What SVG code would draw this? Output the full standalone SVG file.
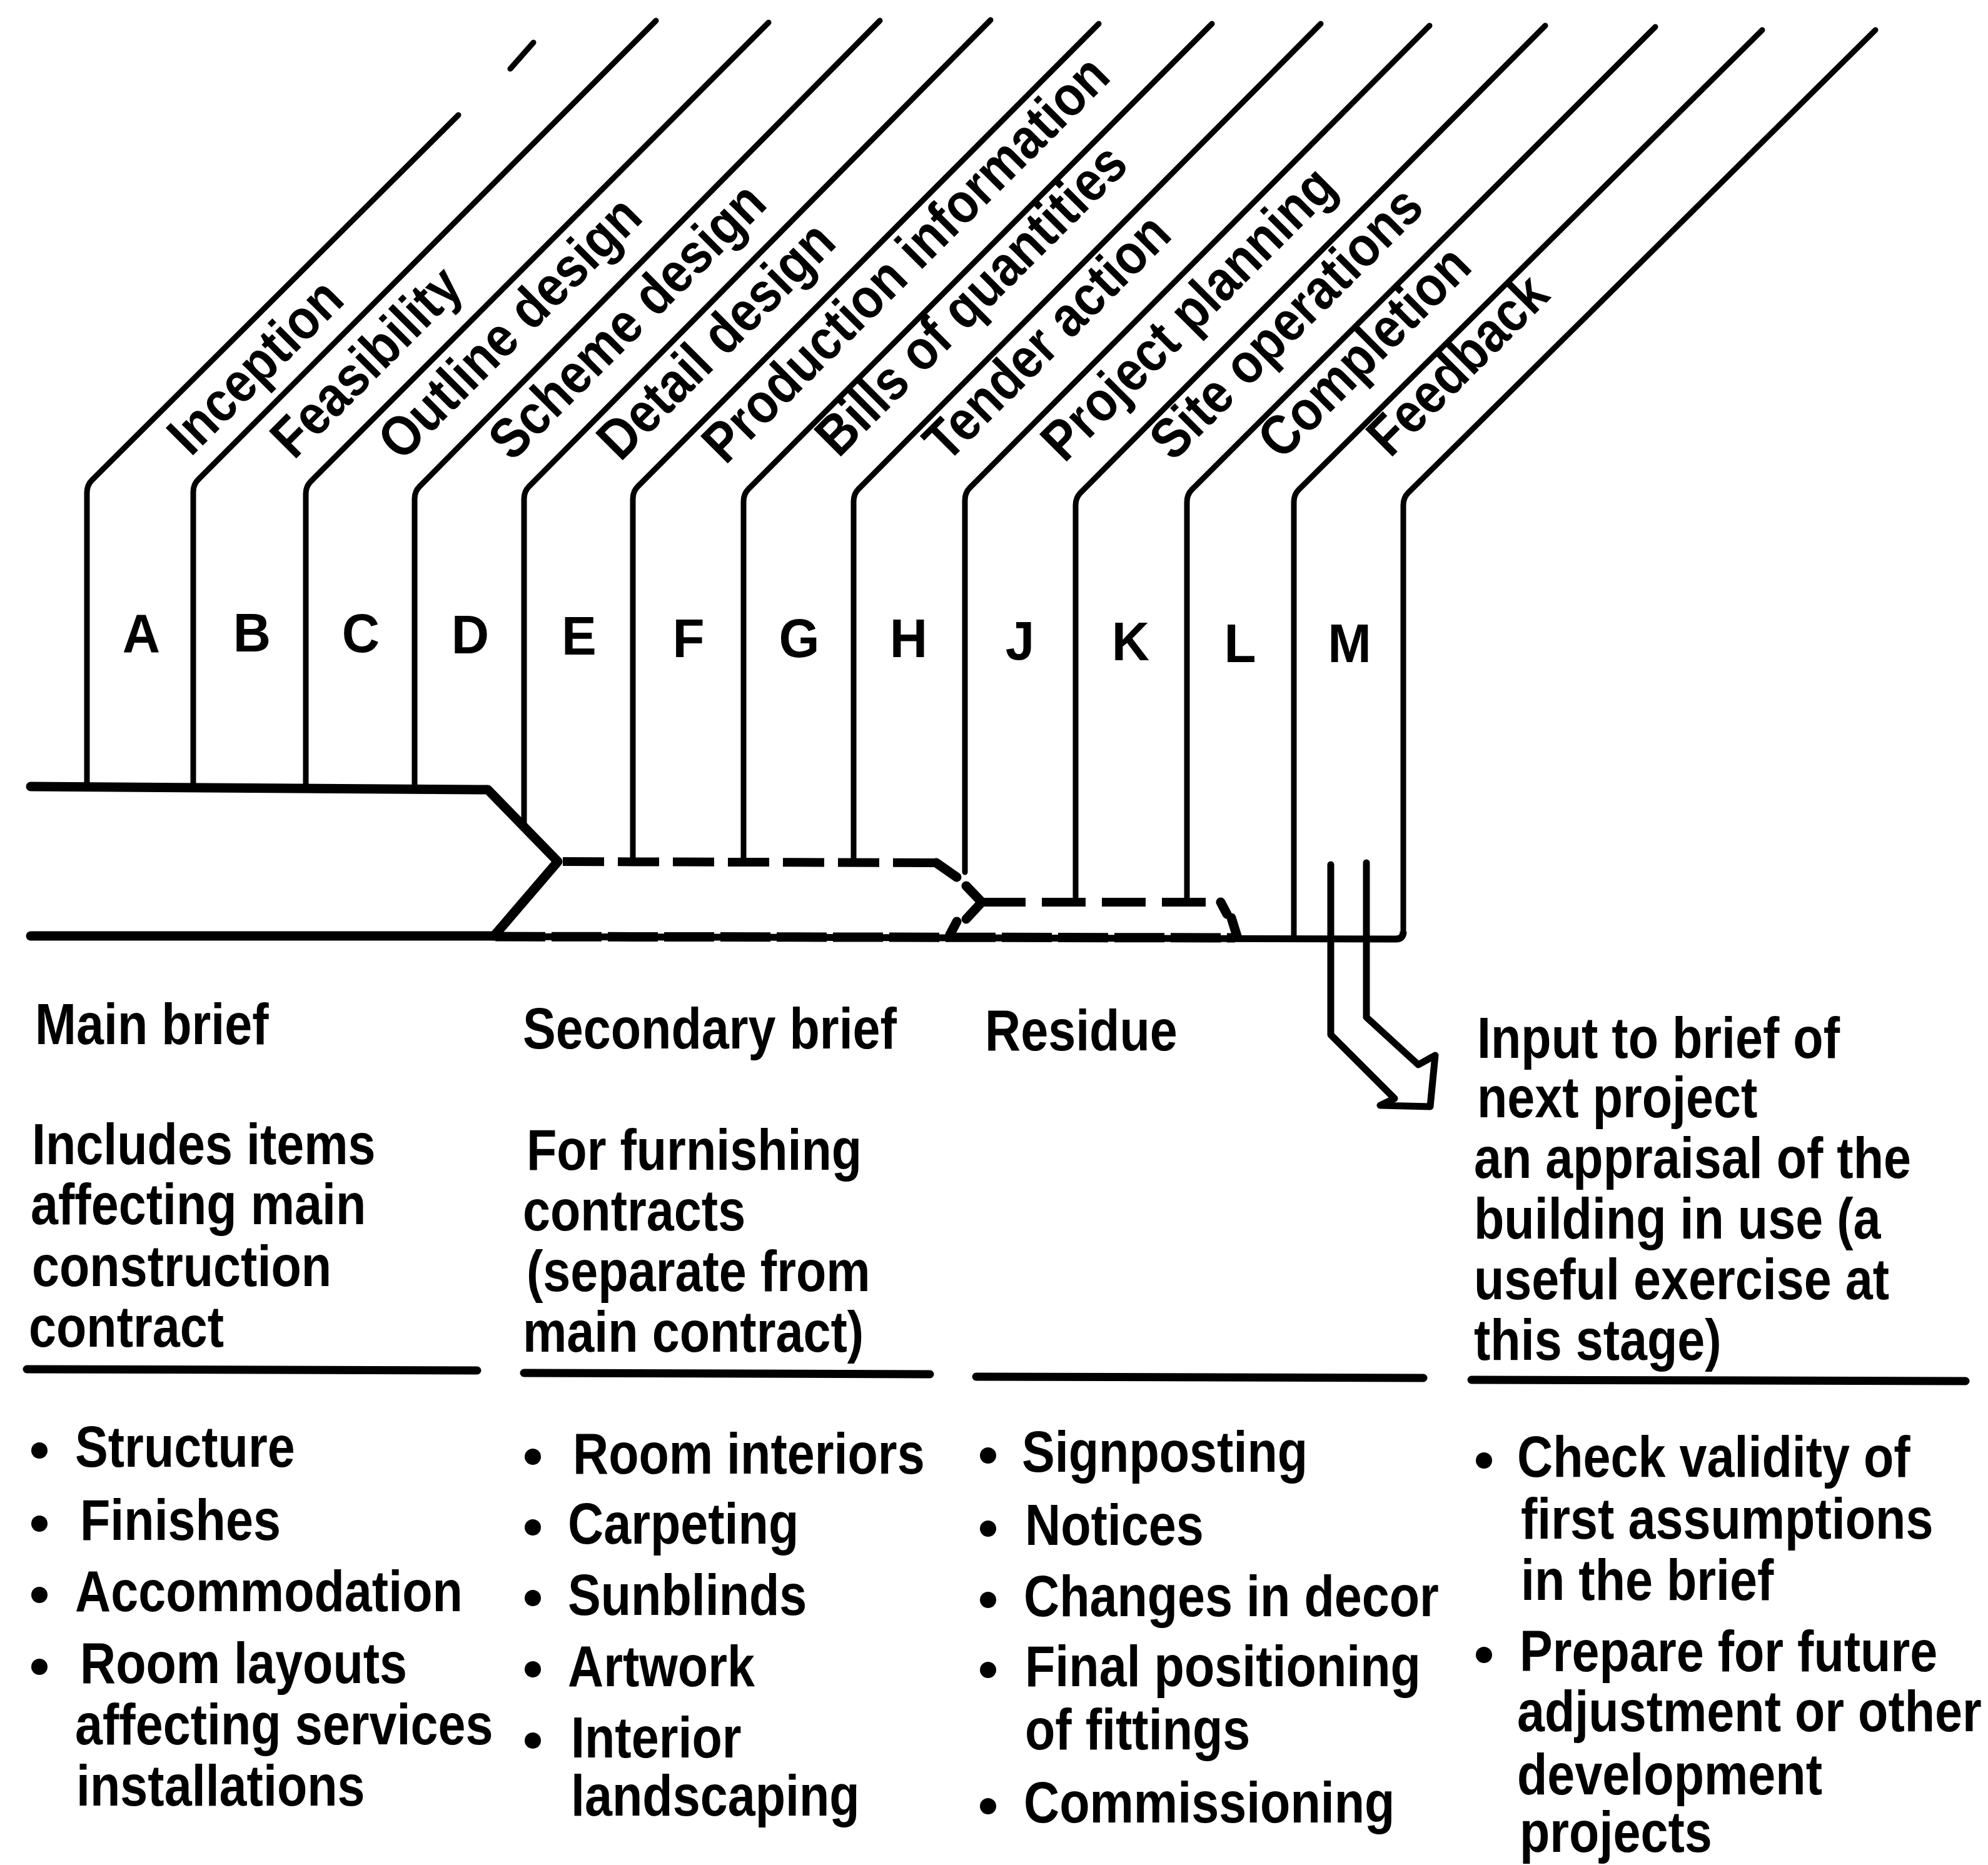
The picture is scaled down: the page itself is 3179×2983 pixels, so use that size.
<svg xmlns="http://www.w3.org/2000/svg" width="3179" height="2983" viewBox="0 0 3179 2983">
<style>
.ln{fill:none;stroke:#000;stroke-width:9;stroke-linecap:round;stroke-linejoin:round}
.thick{fill:none;stroke:#000;stroke-width:15;stroke-linecap:round;stroke-linejoin:round}
.dash{fill:none;stroke:#000;stroke-width:14;stroke-dasharray:66 22}
.dash2{fill:none;stroke:#000;stroke-width:14;stroke-dasharray:70 26}
.dash3{fill:none;stroke:#000;stroke-width:15;stroke-dasharray:80 10}
.thin{fill:none;stroke:#000;stroke-width:11}
.rule{fill:none;stroke:#000;stroke-width:13;stroke-linecap:round}
.arrow{fill:none;stroke:#000;stroke-width:11;stroke-linejoin:round;stroke-linecap:round}
text{font-family:"Liberation Sans",Arial,sans-serif;font-weight:bold;fill:#000}
.t{font-size:92px}
.lab{font-size:90px}
.let{font-size:88px;text-anchor:middle}
.bul{fill:#000}
</style>
<rect width="3179" height="2983" fill="#fff"/>

<g id="connectors">
  <!-- main brief band -->
  <path class="thick" d="M49,1258 L780,1263 L892,1378 L790,1497"/>
  <path class="thick" d="M49,1497 L790,1497"/>
  <path class="thin" d="M790,1498 L2232,1502 Q2244,1502 2244,1490"/>
  <path class="dash3" d="M792,1498 L1975,1500"/>
  <!-- secondary brief dashed -->
  <path class="dash" d="M900,1378 L1497,1380"/>
  <path class="thick" d="M1497,1380 L1530,1403"/>
  <path class="thick" d="M1519,1495 L1530,1474"/>
  <!-- residue -->
  <path class="thick" d="M1545,1417 L1570,1443 L1545,1470"/>
  <path class="dash2" d="M1570,1443 L1952,1443"/>
  <path class="thick" d="M1952,1443 L1962,1462"/>
  <path class="thick" d="M1978,1497 L1969,1468"/>
  <!-- stray fragment at top -->
  <path class="ln" d="M816,110 L853,68"/>
  <!-- output arrow -->
  <path class="arrow" d="M2128,1383 L2128,1655 L2230,1757 L2207,1768 L2287,1770 L2295,1688 L2268,1703 L2185,1627 L2185,1380"/>
</g>

<g id="stage-A">
  <path class="ln" d="M139,1258 V788 Q139,776 147,768 L733,184"/>
  <text class="let" transform="matrix(0.95 0 0 1 226 1043)">A</text>
  <text class="lab" transform="translate(305,732) rotate(-45) scale(0.88,1)">Inception</text>
</g>
<g id="stage-B">
  <path class="ln" d="M309,1259 V787 Q309,775 317,767 L1049,33"/>
  <text class="let" transform="matrix(0.95 0 0 1 403 1042)">B</text>
  <text class="lab" transform="translate(470,737) rotate(-45) scale(0.88,1)">Feasibility</text>
</g>
<g id="stage-C">
  <path class="ln" d="M489,1260 V790 Q489,778 497,770 L1229,36"/>
  <text class="let" transform="matrix(0.95 0 0 1 577 1043)">C</text>
  <text class="lab" transform="translate(642,740) rotate(-45) scale(0.88,1)">Outline design</text>
</g>
<g id="stage-D">
  <path class="ln" d="M663,1261 V798 Q663,786 671,778 L1407,33"/>
  <text class="let" transform="matrix(0.95 0 0 1 752 1045)">D</text>
  <text class="lab" transform="translate(819,740) rotate(-45) scale(0.88,1)">Scheme design</text>
</g>
<g id="stage-E">
  <path class="ln" d="M838,1323 V798 Q838,786 846,778 L1584,32"/>
  <text class="let" transform="matrix(0.95 0 0 1 926 1047)">E</text>
  <text class="lab" transform="translate(992,740) rotate(-45) scale(0.88,1)">Detail design</text>
</g>
<g id="stage-F">
  <path class="ln" d="M1012,1378 V798 Q1012,786 1020,778 L1757,38"/>
  <text class="let" transform="matrix(0.95 0 0 1 1101 1051)">F</text>
  <text class="lab" transform="translate(1160,745) rotate(-45) scale(0.88,1)">Production information</text>
</g>
<g id="stage-G">
  <path class="ln" d="M1189,1379 V802 Q1189,790 1197,782 L1938,38"/>
  <text class="let" transform="matrix(0.95 0 0 1 1278 1051)">G</text>
  <text class="lab" transform="translate(1341,734) rotate(-45) scale(0.88,1)">Bills of quantities</text>
</g>
<g id="stage-H">
  <path class="ln" d="M1365,1380 V802 Q1365,790 1373,782 L2112,38"/>
  <text class="let" transform="matrix(0.95 0 0 1 1453 1051)">H</text>
  <text class="lab" transform="translate(1514,742) rotate(-45) scale(0.88,1)">Tender action</text>
</g>
<g id="stage-J">
  <path class="ln" d="M1543,1395 V800 Q1543,788 1551,780 L2286,41"/>
  <text class="let" transform="matrix(0.95 0 0 1 1631 1055)">J</text>
  <text class="lab" transform="translate(1702,742) rotate(-45) scale(0.88,1)">Project planning</text>
</g>
<g id="stage-K">
  <path class="ln" d="M1720,1443 V808 Q1720,796 1728,788 L2471,41"/>
  <text class="let" transform="matrix(0.95 0 0 1 1808 1056)">K</text>
  <text class="lab" transform="translate(1876,740) rotate(-45) scale(0.88,1)">Site operations</text>
</g>
<g id="stage-L">
  <path class="ln" d="M1898,1443 V803 Q1898,791 1906,783 L2647,43"/>
  <text class="let" transform="matrix(0.95 0 0 1 1983 1059)">L</text>
  <text class="lab" transform="translate(2049,738) rotate(-45) scale(0.88,1)">Completion</text>
</g>
<g id="stage-M">
  <path class="ln" d="M2069,1500 V803 Q2069,791 2077,783 L2818,48"/>
  <path class="ln" d="M2244,1490 V808 Q2244,796 2252,788 L2999,48"/>
  <text class="let" transform="matrix(0.95 0 0 1 2158 1059)">M</text>
  <text class="lab" transform="translate(2223,734) rotate(-45) scale(0.88,1)">Feedback</text>
</g>

<g id="col-main">
  <text class="t" transform="matrix(0.86 0 0 1 56 1670)">Main brief</text>
  <text class="t" transform="matrix(0.86 0 0 1 51 1862)">Includes items</text>
  <text class="t" transform="matrix(0.86 0 0 1 49 1958)">affecting main</text>
  <text class="t" transform="matrix(0.86 0 0 1 51 2057)">construction</text>
  <text class="t" transform="matrix(0.86 0 0 1 46 2154)">contract</text>
  <path class="rule" d="M43,2190 L763,2192"/>
  <circle class="bul" cx="63" cy="2320" r="13"/>
  <text class="t" transform="matrix(0.86 0 0 1 120 2346)">Structure</text>
  <circle class="bul" cx="63" cy="2437" r="13"/>
  <text class="t" transform="matrix(0.86 0 0 1 128 2463)">Finishes</text>
  <circle class="bul" cx="63" cy="2551" r="13"/>
  <text class="t" transform="matrix(0.86 0 0 1 120 2577)">Accommodation</text>
  <circle class="bul" cx="63" cy="2666" r="13"/>
  <text class="t" transform="matrix(0.86 0 0 1 128 2692)">Room layouts</text>
  <text class="t" transform="matrix(0.86 0 0 1 120 2790)">affecting services</text>
  <text class="t" transform="matrix(0.86 0 0 1 122 2888)">installations</text>
</g>

<g id="col-secondary">
  <text class="t" transform="matrix(0.86 0 0 1 836 1677)">Secondary brief</text>
  <text class="t" transform="matrix(0.86 0 0 1 842 1871)">For furnishing</text>
  <text class="t" transform="matrix(0.86 0 0 1 836 1968)">contracts</text>
  <text class="t" transform="matrix(0.86 0 0 1 842 2065)">(separate from</text>
  <text class="t" transform="matrix(0.86 0 0 1 836 2162)">main contract)</text>
  <path class="rule" d="M838,2196 L1487,2198"/>
  <circle class="bul" cx="852" cy="2330" r="13"/>
  <text class="t" transform="matrix(0.86 0 0 1 916 2357)">Room interiors</text>
  <circle class="bul" cx="852" cy="2443" r="13"/>
  <text class="t" transform="matrix(0.86 0 0 1 908 2469)">Carpeting</text>
  <circle class="bul" cx="852" cy="2556" r="13"/>
  <text class="t" transform="matrix(0.86 0 0 1 908 2583)">Sunblinds</text>
  <circle class="bul" cx="852" cy="2670" r="13"/>
  <text class="t" transform="matrix(0.86 0 0 1 908 2697)">Artwork</text>
  <circle class="bul" cx="852" cy="2784" r="13"/>
  <text class="t" transform="matrix(0.86 0 0 1 913 2811)">Interior</text>
  <text class="t" transform="matrix(0.86 0 0 1 913 2904)">landscaping</text>
</g>

<g id="col-residue">
  <text class="t" transform="matrix(0.86 0 0 1 1575 1680)">Residue</text>
  <path class="rule" d="M1561,2202 L2276,2204"/>
  <circle class="bul" cx="1580" cy="2328" r="13"/>
  <text class="t" transform="matrix(0.86 0 0 1 1634 2354)">Signposting</text>
  <circle class="bul" cx="1580" cy="2445" r="13"/>
  <text class="t" transform="matrix(0.86 0 0 1 1639 2471)">Notices</text>
  <circle class="bul" cx="1580" cy="2559" r="13"/>
  <text class="t" transform="matrix(0.86 0 0 1 1637 2585)">Changes in decor</text>
  <circle class="bul" cx="1580" cy="2671" r="13"/>
  <text class="t" transform="matrix(0.86 0 0 1 1639 2697)">Final positioning</text>
  <text class="t" transform="matrix(0.86 0 0 1 1639 2798)">of fittings</text>
  <circle class="bul" cx="1580" cy="2889" r="13"/>
  <text class="t" transform="matrix(0.86 0 0 1 1637 2915)">Commissioning</text>
</g>

<g id="col-feedback">
  <text class="t" transform="matrix(0.86 0 0 1 2362 1692)">Input to brief of</text>
  <text class="t" transform="matrix(0.86 0 0 1 2362 1787)">next project</text>
  <text class="t" transform="matrix(0.86 0 0 1 2357 1884)">an appraisal of the</text>
  <text class="t" transform="matrix(0.86 0 0 1 2357 1981)">building in use (a</text>
  <text class="t" transform="matrix(0.86 0 0 1 2357 2078)">useful exercise at</text>
  <text class="t" transform="matrix(0.86 0 0 1 2357 2175)">this stage)</text>
  <path class="rule" d="M2353,2207 L3143,2209"/>
  <circle class="bul" cx="2373" cy="2336" r="13"/>
  <text class="t" transform="matrix(0.86 0 0 1 2426 2362)">Check validity of</text>
  <text class="t" transform="matrix(0.86 0 0 1 2432 2461)">first assumptions</text>
  <text class="t" transform="matrix(0.86 0 0 1 2432 2559)">in the brief</text>
  <circle class="bul" cx="2373" cy="2647" r="13"/>
  <text class="t" transform="matrix(0.86 0 0 1 2430 2673)">Prepare for future</text>
  <text class="t" transform="matrix(0.86 0 0 1 2426 2769)">adjustment or other</text>
  <text class="t" transform="matrix(0.86 0 0 1 2426 2870)">development</text>
  <text class="t" transform="matrix(0.86 0 0 1 2430 2962)">projects</text>
</g>
</svg>
